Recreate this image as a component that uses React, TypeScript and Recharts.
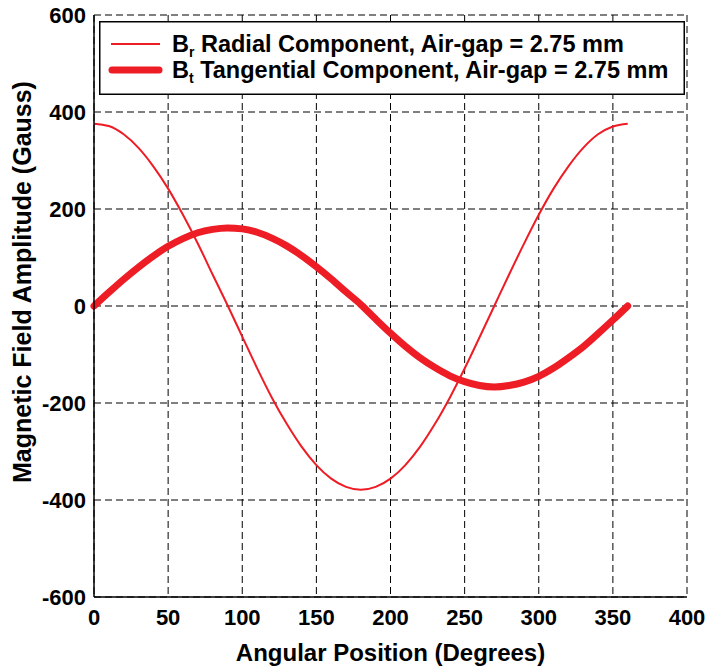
import { LineChart, Line, XAxis, YAxis, CartesianGrid, Legend } from "recharts";

// angular position (degrees)
const angles = [
  0, 10, 20, 30, 40, 50, 60, 70, 80, 90, 100, 110, 120, 130, 140, 150, 160, 170, 180,
  190, 200, 210, 220, 230, 240, 250, 260, 270, 280, 290, 300, 310, 320, 330, 340, 350, 360,
];

// B_r radial component (Gauss)
const radial = [
  376, 371, 354, 326, 288, 242, 188, 129, 65, 2, -63, -128, -189, -243, -290, -328, -356, -373, -379,
  -373, -356, -328, -290, -243, -189, -129, -65, 0, 65, 128, 188, 242, 288, 326, 354, 370, 376,
];

// B_t tangential component (Gauss)
const tangential = [
  0, 28, 55, 80, 103, 123, 139, 151, 158, 161, 159, 152, 140, 124, 104, 81, 56, 29, 3,
  -27, -56, -83, -107, -127, -144, -156, -164, -167, -164, -157, -145, -128, -107, -84, -57, -29, 0,
];

const xTicks = [0, 50, 100, 150, 200, 250, 300, 350, 400];
const yTicks = [-600, -400, -200, 0, 200, 400, 600];

const RED = "#ee1c25";
const FONT = "'Liberation Sans', Arial, Helvetica, sans-serif";

const chartData = angles.map((a, i) => ({ angle: a, br: radial[i], bt: tangential[i] }));

function LegendBox() {
  return (
    <svg width={586} height={74} style={{ display: "block" }}>
      <rect x={0.75} y={0.75} width={584.5} height={72.5} fill="#fff" stroke="#000" strokeWidth={1.5} />
      <line x1={12} x2={61} y1={23} y2={23} stroke={RED} strokeWidth={2} />
      <line x1={13} x2={60} y1={49} y2={49} stroke={RED} strokeWidth={7} strokeLinecap="round" />
      <text x={73} y={31} fontFamily={FONT} fontWeight="bold" fontSize={23.5} fill="#000">
        B<tspan fontSize={14} dy={5}>r</tspan>
        <tspan dy={-5}> Radial Component, Air-gap = 2.75 mm</tspan>
      </text>
      <text x={73} y={57} fontFamily={FONT} fontWeight="bold" fontSize={23.5} fill="#000">
        B<tspan fontSize={14} dy={5}>t</tspan>
        <tspan dy={-5}> Tangential Component, Air-gap = 2.75 mm</tspan>
      </text>
    </svg>
  );
}

export default function App() {
  const tickStyle = { fontFamily: FONT, fontWeight: "bold", fontSize: 22, fill: "#000" };
  return (
    <div style={{ position: "absolute", left: 0, top: 0, background: "#fff" }}>
      <LineChart width={724} height={666} data={chartData} margin={{ top: 15, right: 37, bottom: 0, left: 0 }}>
        <CartesianGrid stroke="#000" strokeDasharray="7 4" strokeWidth={1} />
        <XAxis
          dataKey="angle"
          type="number"
          domain={[0, 400]}
          ticks={xTicks}
          height={69}
          tickLine={false}
          tickMargin={6}
          axisLine={{ stroke: "#000", strokeWidth: 1.5 }}
          tick={tickStyle}
          label={{
            value: "Angular Position (Degrees)",
            position: "insideBottom",
            offset: 5,
            style: { fontFamily: FONT, fontWeight: "bold", fontSize: 24, fill: "#000" },
          }}
        />
        <YAxis
          type="number"
          domain={[-600, 600]}
          ticks={yTicks}
          width={94}
          tickLine={false}
          axisLine={{ stroke: "#000", strokeWidth: 1.5 }}
          tick={tickStyle}
          label={{
            value: "Magnetic Field Amplitude (Gauss)",
            angle: -90,
            position: "insideLeft",
            offset: 22,
            dy: -24,
            style: { textAnchor: "middle", fontFamily: FONT, fontWeight: "bold", fontSize: 25, fill: "#000" },
          }}
        />
        <Legend
          layout="horizontal"
          verticalAlign="middle"
          align="center"
          wrapperStyle={{ left: 99, top: 21, width: 586, height: 74 }}
          content={() => <LegendBox />}
        />
        <Line
          type="monotone"
          dataKey="br"
          name="Br Radial Component, Air-gap = 2.75 mm"
          stroke={RED}
          strokeWidth={2}
          dot={false}
          isAnimationActive={false}
        />
        <Line
          type="monotone"
          dataKey="bt"
          name="Bt Tangential Component, Air-gap = 2.75 mm"
          stroke={RED}
          strokeWidth={7}
          strokeLinecap="round"
          dot={false}
          isAnimationActive={false}
        />
      </LineChart>
    </div>
  );
}
